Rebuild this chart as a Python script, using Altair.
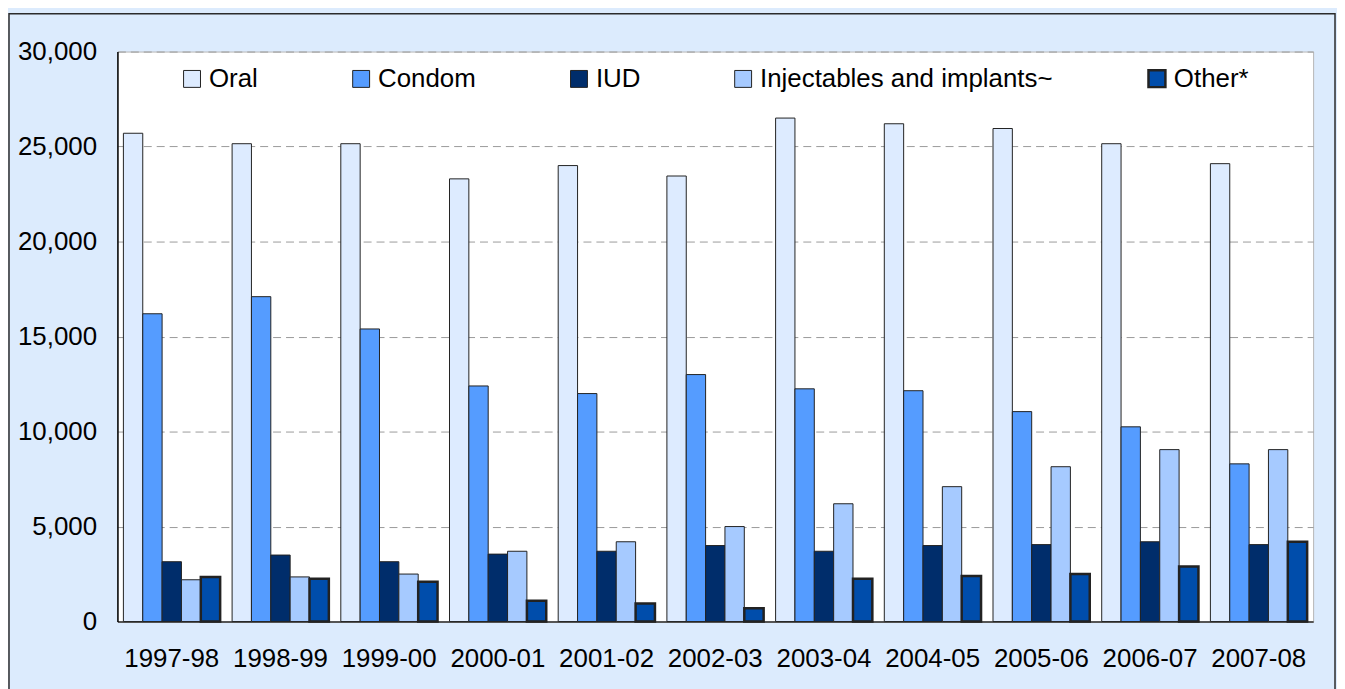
import altair as alt
import pandas as pd

periods = ["1997-98", "1998-99", "1999-00", "2000-01", "2001-02", "2002-03",
           "2003-04", "2004-05", "2005-06", "2006-07", "2007-08"]
methods = ["Oral", "Condom", "IUD", "Injectables and implants~", "Other*"]
oral = [25700, 25150, 25150, 23300, 24000, 23450, 26500, 26200, 25950, 25150, 24100]
condom = [16200, 17100, 15400, 12400, 12000, 13000, 12250, 12150, 11050, 10250, 8300]
iud = [3150, 3500, 3150, 3550, 3700, 4000, 3700, 4000, 4050, 4200, 4050]
inject = [2200, 2350, 2500, 3700, 4200, 5000, 6200, 7100, 8150, 9050, 9050]
other = [2350, 2250, 2100, 1100, 950, 700, 2250, 2400, 2500, 2900, 4200]
colors = ["#DDEBFF", "#559CFF", "#002D6B", "#A6CAFF", "#004DAB"]

series = [oral, condom, iud, inject, other]
rows = []
for m, vals in zip(methods, series):
    for p, v in zip(periods, vals):
        rows.append({"period": p, "method": m, "value": v})
df = pd.DataFrame(rows)

W, H = 1202, 573
FONT = "Liberation Sans"

bars = alt.Chart(df).mark_bar(stroke="#222222").encode(
    x=alt.X("period:N", sort=periods, title=None,
            scale=alt.Scale(paddingInner=0.11, paddingOuter=0.055),
            axis=alt.Axis(labelAngle=0, labelFontSize=26, labelFont=FONT,
                          labelColor="black", labelPadding=24, ticks=False,
                          domainColor="#555555", domainWidth=2)),
    xOffset=alt.XOffset("method:N", sort=methods,
                        scale=alt.Scale(paddingInner=0, paddingOuter=0)),
    y=alt.Y("value:Q", title=None,
            scale=alt.Scale(domain=[0, 30000]),
            axis=alt.Axis(values=[0, 5000, 10000, 15000, 20000, 25000, 30000],
                          format=",.0f", labelFontSize=26, labelFont=FONT,
                          labelColor="black", labelPadding=21, ticks=False,
                          domainColor="black", domainWidth=1.5,
                          gridColor="#9a9a9a", gridDash=[8, 5], gridWidth=1)),
    color=alt.Color("method:N", sort=methods, title=None,
                    scale=alt.Scale(domain=methods, range=colors),
                    legend=alt.Legend(orient="none", legendX=62, legendY=14,
                                      direction="horizontal", symbolType="square",
                                      symbolSize=289, symbolStrokeColor="#222222",
                                      symbolStrokeWidth={"expr": "datum.label == 'Other*' ? 2.5 : 1"},
                                      labelFontSize=26, labelFont=FONT,
                                      labelColor="black", columnPadding=90,
                                      labelOffset=4, labelLimit=0)),
    strokeWidth=alt.condition(alt.datum.method == "Other*", alt.value(2.5), alt.value(1)),
)

frame = alt.Chart(pd.DataFrame({"k": [0]})).mark_rect(
    filled=False, stroke="#2b2b2b", strokeWidth=1.5
).encode(
    x=alt.value(-109), x2=alt.value(1224),
    y=alt.value(-38), y2=alt.value(700),
)

chart = alt.layer(bars, frame).properties(
    width=W, height=H,
    autosize=alt.AutoSizeParams(type="none"),
    padding={"left": 110, "top": 42, "right": 24, "bottom": 66},
    background="#DCEBFD",
).configure_view(fill="white", stroke="#b5b5b5")

chart.save("out.html", embed_options={"renderer": "svg", "actions": False})
